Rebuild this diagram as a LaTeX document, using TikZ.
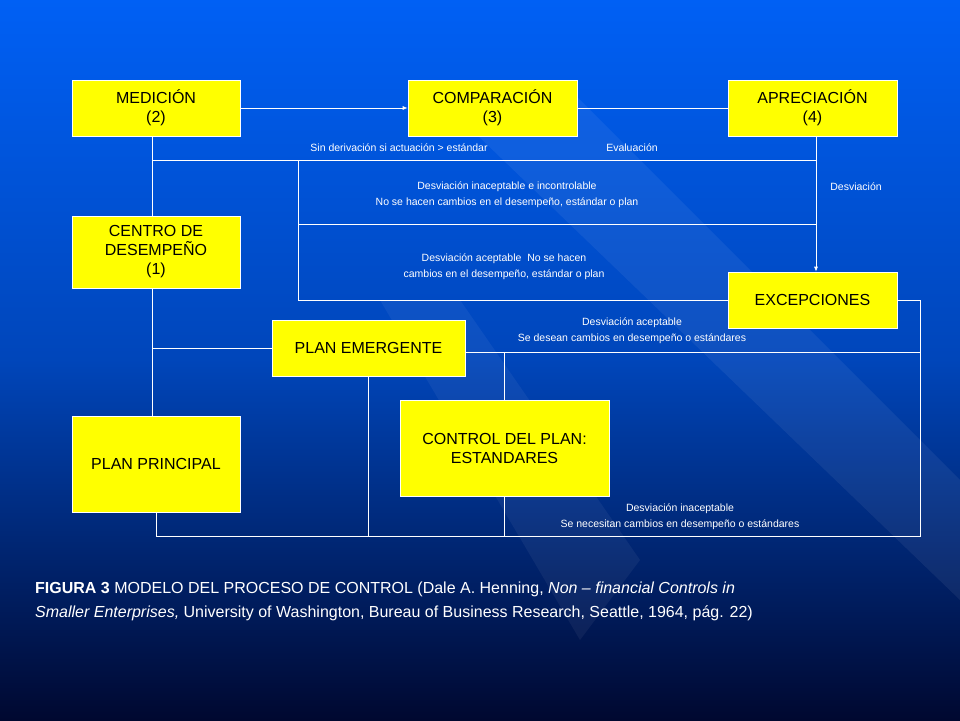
\documentclass[tikz,border=0pt]{standalone}
\usepackage{fontspec}
\setmainfont{Liberation Sans}
\usetikzlibrary{arrows.meta}
\definecolor{topblue}{RGB}{0,96,245}
\definecolor{botblue}{RGB}{0,8,48}
\definecolor{boxyellow}{RGB}{255,255,0}
\tikzset{
  caja/.style={draw=white, line width=0.6pt, fill=boxyellow, align=center, inner sep=0pt,
    font=\fontsize{16}{19}\selectfont, text=black},
  linea/.style={draw=white, line width=0.8pt},
  nota/.style={text=white, align=center, font=\fontsize{10.5}{16}\selectfont, inner sep=0pt}
}
\begin{document}
\begin{tikzpicture}[x=1pt,y=-1pt]
	\shade[top color=topblue, bottom color=botblue, middle color=topblue!70!botblue] (0,0) rectangle (960,720);
	\useasboundingbox (0,0) rectangle (960,720);
	\fill[white, opacity=0.06] (420,80) -- (560,80) -- (960,480) -- (960,600) -- cycle;%franja
	\fill[white, opacity=0.05] (380,300) -- (460,300) -- (640,560) -- (580,640) -- cycle;%franja
	
	\node[caja, minimum width=168, minimum height=56] (med) at (156,108) {MEDICIÓN\\(2)};
	\node[caja, minimum width=169, minimum height=56] (comp) at (492.5,108) {COMPARACIÓN\\(3)};
	\node[caja, minimum width=169, minimum height=56] (apre) at (812.5,108) {APRECIACIÓN\\(4)};
	\node[caja, minimum width=168, minimum height=72] (centro) at (156,252) {CENTRO DE\\DESEMPEÑO\\(1)};
	\node[caja, minimum width=169, minimum height=56] (exc) at (812.5,300) {EXCEPCIONES};
	\node[caja, minimum width=193, minimum height=56] (emer) at (368.5,348) {PLAN EMERGENTE};
	\node[caja, minimum width=209, minimum height=96] (ctrl) at (504.5,448) {CONTROL DEL PLAN:\\ESTANDARES};
	\node[caja, minimum width=168, minimum height=96] (ppal) at (156,464) {PLAN PRINCIPAL};
	
	\coordinate (a1) at (152,160);
	\coordinate (a2) at (816,160);
	\coordinate (b1) at (298,160);
	\coordinate (b2) at (298,224);
	\coordinate (b3) at (816,224);
	\coordinate (b4) at (298,300);
	\coordinate (c1) at (152,348);
	\coordinate (d1) at (920,300);
	\coordinate (d2) at (920,352);
	\coordinate (d3) at (920,536);
	\coordinate (e1) at (504,352);
	\coordinate (f1) at (156,536);
	
	\draw[linea, -{Latex[length=5pt,width=4pt]}] (med) -- (comp);
	\draw[linea] (comp) -- (apre);
	\draw[linea] (med.south -| a1) -- (centro.north -| a1);
	\draw[linea] (centro.south -| a1) -- (ppal.north -| a1);
	\draw[linea] (a1) -- (a2);
	\draw[linea, -{Latex[length=5pt,width=4pt]}] (apre.south -| a2) -- (exc.north -| a2);
	\draw[linea] (b1) -- (b4) -- (exc.west);
	\draw[linea] (b2) -- (b3);
	\draw[linea] (c1) -- (emer.west |- c1);
	\draw[linea] (exc.east) -- (d1) -- (d3) -- (f1) -- (ppal.south -| f1);
	\draw[linea] (emer.east |- d2) -- (d2);
	\draw[linea] (e1) -- (ctrl.north -| e1);
	\draw[linea] (ctrl.south -| e1) -- (e1 |- d3);
	\draw[linea] (emer.south) -- (emer.south |- d3);
	
	\node[nota] (n1) at (399,148) {Sin derivación si actuación > estándar};
	\node[nota] (n2) at (632,148) {Evaluación};
	\node[nota] (n3) at (507,195) {Desviación inaceptable e incontrolable\\No se hacen cambios en el desempeño, estándar o plan};
	\node[nota] (n4) at (856,187) {Desviación};
	\node[nota] (n5) at (504,267) {Desviación aceptable\ \ No se hacen\\cambios en el desempeño, estándar o plan};
	\node[nota] (n6) at (632,331) {Desviación aceptable\\Se desean cambios en desempeño o estándares};
	\node[nota] (n7) at (680,517) {Desviación inaceptable\\Se necesitan cambios en desempeño o estándares};
	
	\node[text=white, anchor=north west, align=left, inner sep=0pt, font=\fontsize{16}{24}\selectfont] (pie) at (35,582)
	{\textbf{FIGURA 3} MODELO DEL PROCESO DE CONTROL (Dale A. Henning, \textit{Non – financial Controls in}\\
	\textit{Smaller Enterprises,} University of Washington, Bureau of Business Research, Seattle, 1964, pág. 22)};
\end{tikzpicture}
\end{document}
